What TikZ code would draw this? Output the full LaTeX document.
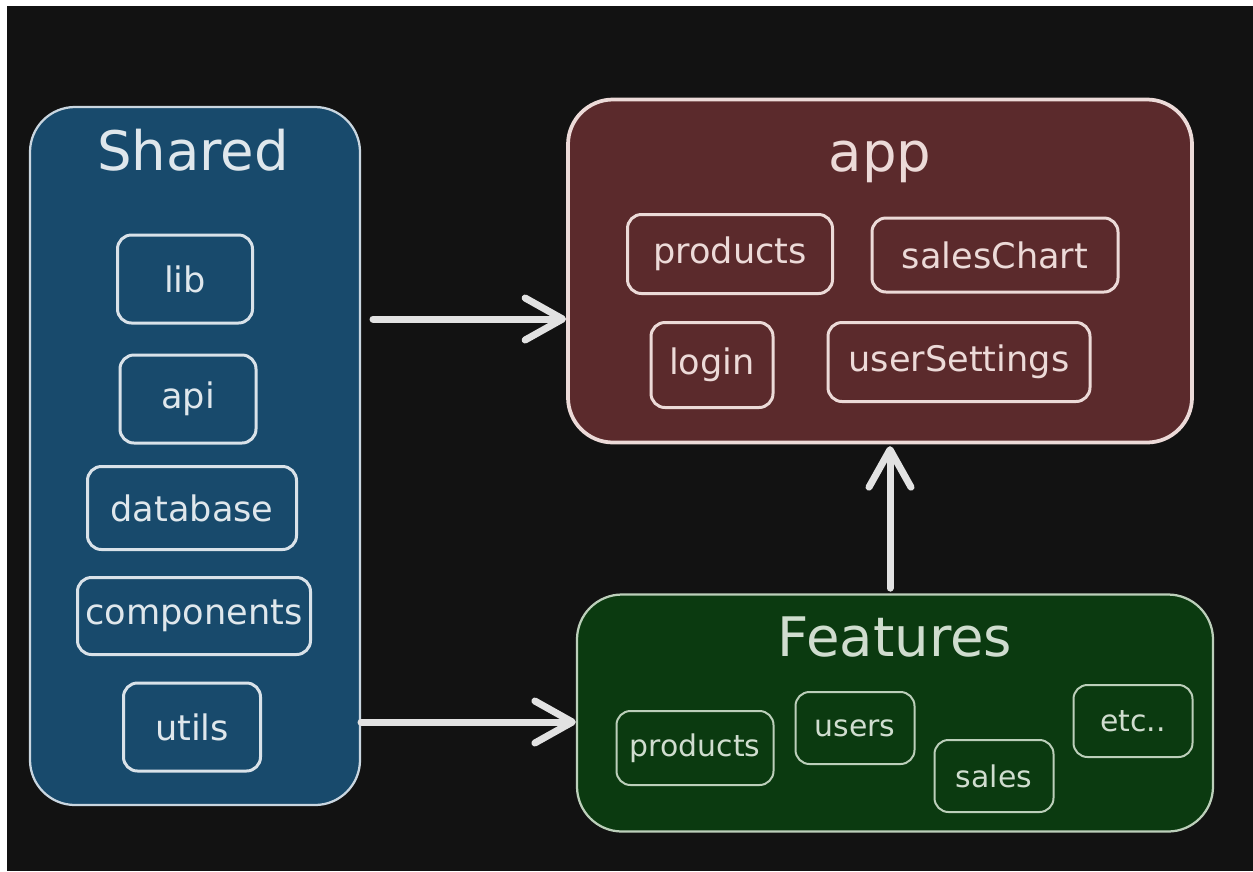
\documentclass[tikz,border=0pt]{standalone}
\usepackage{fontspec}
\setmainfont{DejaVu Sans}
\usetikzlibrary{arrows.meta}

\definecolor{bgdark}{HTML}{121212}
\definecolor{sharedfill}{HTML}{184A6C}
\definecolor{sharedline}{HTML}{C9D6E0}
\definecolor{appfill}{HTML}{5B2A2C}
\definecolor{appline}{HTML}{ECDAD8}
\definecolor{featfill}{HTML}{0B3A10}
\definecolor{featline}{HTML}{BCCFBA}
\definecolor{arrowgray}{HTML}{E2E2E2}

\tikzset{
  sz/.style 2 args={minimum width=#1*0.2mm, minimum height=#2*0.2mm, inner sep=0pt},
  grp/.style={draw, rounded corners=9mm},
  item/.style={draw, rounded corners=2.8mm, line width=0.6mm},
  title/.style={font=\fontsize{31}{36}\selectfont},
  label/.style={font=\fontsize{20}{24}\selectfont},
  link/.style={draw=arrowgray, line width=1.4mm, line cap=round,
    -{Straight Barb[length=7.5mm, width=8.4mm, line cap=round, round]}}
}

\begin{document}
\begin{tikzpicture}[x=0.2mm, y=-0.2mm]
  %% page and background
  \fill[white] (0,0) rectangle (1253,871);
  \fill[bgdark] (7,6) rectangle (1253,871);
  \useasboundingbox (0,0) rectangle (1253,871);

  %% Shared
  \node[grp, sz={330}{698}, fill=sharedfill, draw=sharedline, line width=0.45mm] (shared) at (195,456) {};
  \node[title, text=sharedline!60!white] (sharedT) at (193,150) {Shared};
  \begin{scope}[every node/.style={item, label, draw=sharedline!70!white, text=sharedline!60!white}]
    \node[sz={135}{88}] (lib) at (185,279) {lib};
    \node[sz={136}{88}] (api) at (188,399) {api};
    \node[sz={209}{83}] (database) at (192,508) {database};
    \node[sz={233}{77}] (components) at (194,616) {components};
    \node[sz={137}{88}] (utils) at (192,727) {utils};
  \end{scope}

  %% app
  \node[grp, sz={624}{343}, fill=appfill, draw=appline, line width=0.75mm] (app) at (880,271) {};
  \node[title, text=appline] (appT) at (880,162) {app};
  \begin{scope}[every node/.style={item, label, draw=appline, text=appline}]
    \node[sz={205}{79}] (products) at (730,254) {products};
    \node[sz={246}{74}] (salesChart) at (995,255) {salesChart};
    \node[sz={122}{85}] (login) at (712,365) {login};
    \node[sz={262}{79}] (userSettings) at (959,362) {userSettings};
  \end{scope}

  %% Features
  \node[grp, sz={636}{237}, fill=featfill, draw=featline, line width=0.45mm] (features) at (895,713) {};
  \node[title, text=featline!70!white] (featT) at (895,637) {Features};
  \begin{scope}[every node/.style={item, line width=0.4mm, font=\fontsize{17}{20}\selectfont,
      draw=featline, text=featline!70!white}]
    \node[sz={157}{74}] (fproducts) at (695,748) {products};
    \node[sz={119}{72}] (users) at (855,728) {users};
    \node[sz={119}{72}] (sales) at (994,776) {sales};
    \node[sz={119}{72}] (etc) at (1133,721) {etc..};
  \end{scope}

  %% dependencies
  \coordinate (toApp) at (373,319);
  \coordinate (toFeat) at (361,722);
  \coordinate (up) at (890,0);
  \draw[link] (toApp) -- (app.west |- toApp);
  \draw[link] (toFeat) -- (features.west |- toFeat);
  \draw[link] ([yshift=3] features.north -| up) -- ([yshift=-1] app.south -| up);
\end{tikzpicture}
\end{document}
